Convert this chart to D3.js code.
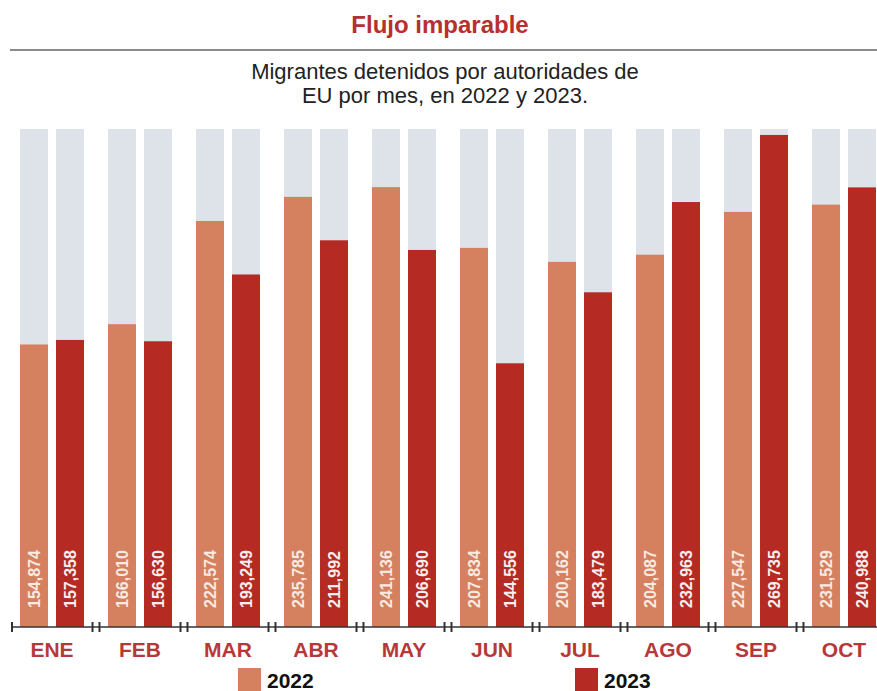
<!DOCTYPE html>
<html>
<head>
<meta charset="utf-8">
<script src="https://cdn.jsdelivr.net/npm/d3@7"></script>
<style>
  body { margin: 0; background: #fff; }
  svg { display: block; }
</style>
</head>
<body>
<div id="chart"></div>
<script>
var months = ["ENE", "FEB", "MAR", "ABR", "MAY", "JUN", "JUL", "AGO", "SEP", "OCT"]
var years = ["2022", "2023"]
var values2022 = [154874, 166010, 222574, 235785, 241136, 207834, 200162, 204087, 227547, 231529]
var values2023 = [157358, 156630, 193249, 211992, 206690, 144556, 183479, 232963, 269735, 240988]
var yMax = 273000

var colors = {"2022": "#d5805f", "2023": "#b52a23"}
var width = 877, height = 691
var base = 627, top_ = 129

var data = months.map(function(m, i){
  return {month: m, vals: [{year: "2022", v: values2022[i]}, {year: "2023", v: values2023[i]}]}
})

var svg = d3.select("#chart").append("svg")
  .attr("width", width)
  .attr("height", height)

// title block
svg.append("text")
  .attr("x", 440).attr("y", 33)
  .attr("text-anchor", "middle")
  .style("font-family", "'Liberation Sans', Arial, sans-serif")
  .style("font-weight", "bold")
  .style("font-size", "24px")
  .style("fill", "#b8302d")
  .text("Flujo imparable")

svg.append("line")
  .attr("x1", 10).attr("x2", width)
  .attr("y1", 50).attr("y2", 50)
  .style("stroke", "#8c8c8c")
  .style("stroke-width", 2)

var sub = ["Migrantes detenidos por autoridades de", "EU por mes, en 2022 y 2023."]
svg.selectAll(".sub")
  .data(sub)
  .enter().append("text")
  .attr("class", "sub")
  .attr("x", 445)
  .attr("y", function(d, i){ return 79 + i * 24 })
  .attr("text-anchor", "middle")
  .style("font-family", "'Liberation Sans', Arial, sans-serif")
  .style("font-size", "22px")
  .style("fill", "#222")
  .text(function(d){ return d })

// scales
var x0 = d3.scaleBand().domain(months).range([8, 888]).paddingInner(24 / 88).paddingOuter(12 / 88)
var x1 = d3.scaleBand().domain(years).range([0, x0.bandwidth()]).paddingInner(8 / 36)
var y = d3.scaleLinear().domain([0, yMax]).range([base, top_])

var groups = svg.selectAll(".grp")
  .data(data)
  .enter().append("g")
  .attr("class", "grp")
  .attr("transform", function(d){ return "translate(" + x0(d.month) + ",0)" })

// background bars
groups.selectAll(".bg")
  .data(function(d){ return d.vals })
  .enter().append("rect")
  .attr("class", "bg")
  .attr("x", function(d){ return x1(d.year) })
  .attr("width", x1.bandwidth())
  .attr("y", y(yMax))
  .attr("height", base - y(yMax))
  .style("fill", "#dde3e8")

groups.selectAll(".bar")
  .data(function(d){ return d.vals })
  .enter().append("rect")
  .attr("class", "bar")
  .attr("x", function(d){ return x1(d.year) })
  .attr("width", x1.bandwidth())
  .attr("y", function(d){ return y(d.v) })
  .attr("height", function(d){ return base - y(d.v) })
  .style("fill", function(d){ return colors[d.year] })

var fmt = d3.format(",")
groups.selectAll(".val")
  .data(function(d){ return d.vals })
  .enter().append("text")
  .attr("class", "val")
  .attr("transform", function(d){
    return "translate(" + (x1(d.year) + x1.bandwidth() / 2 + 6) + "," + 608 + ") rotate(-90)"
  })
  .style("font-family", "'Liberation Sans', Arial, sans-serif")
  .style("font-weight", "bold")
  .style("font-size", "16px")
  .style("fill", function(d){ return d.year == "2022" ? "#f7ebe2" : "#fbeeee" })
  .text(function(d){ return fmt(d.v) })

// axis
svg.append("line")
  .attr("x1", 12).attr("x2", width)
  .attr("y1", base).attr("y2", base)
  .style("stroke", "#333")
  .style("stroke-width", 1.5)

var tickX = [12]
months.forEach(function(m, i){
  if (i > 0){
    var mid = x0(m) - 12
    tickX.push(mid - 3.5, mid + 3.5)
  }
})
svg.selectAll(".tick")
  .data(tickX)
  .enter().append("line")
  .attr("class", "tick")
  .attr("x1", function(d){ return d }).attr("x2", function(d){ return d })
  .attr("y1", base - 5).attr("y2", base + 5)
  .style("stroke", "#333")
  .style("stroke-width", 2)

svg.selectAll(".mlab")
  .data(months)
  .enter().append("text")
  .attr("class", "mlab")
  .attr("x", function(d){ return x0(d) + x0.bandwidth() / 2 })
  .attr("y", 657)
  .attr("text-anchor", "middle")
  .style("font-family", "'Liberation Sans', Arial, sans-serif")
  .style("font-weight", "bold")
  .style("font-size", "21px")
  .style("fill", "#b8383a")
  .text(function(d){ return d })

// legend
var legX = {"2022": 238, "2023": 575}
var leg = svg.selectAll(".leg")
  .data(years)
  .enter().append("g")
  .attr("class", "leg")
  .attr("transform", function(d){ return "translate(" + legX[d] + ",668)" })
leg.append("rect")
  .attr("width", 23).attr("height", 23)
  .style("fill", function(d){ return colors[d] })
leg.append("text")
  .attr("x", 29).attr("y", 20)
  .style("font-family", "'Liberation Sans', Arial, sans-serif")
  .style("font-weight", "bold")
  .style("font-size", "21px")
  .style("fill", "#111")
  .text(function(d){ return d })
</script>
</body>
</html>
